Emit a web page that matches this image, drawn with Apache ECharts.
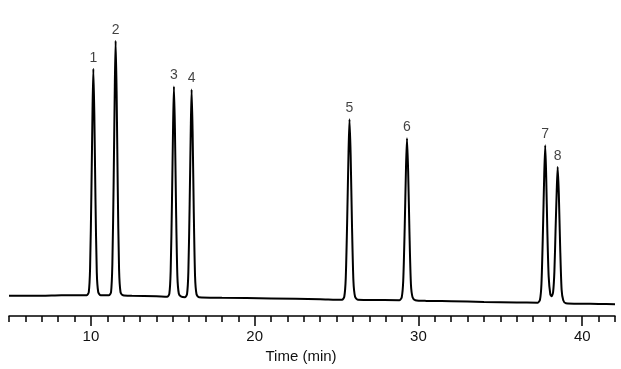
<!DOCTYPE html>
<html>
<head>
<meta charset="utf-8">
<script src="https://cdn.jsdelivr.net/npm/echarts@6/dist/echarts.min.js"></script>
<style>
html,body{margin:0;padding:0;background:#fff;}
#chart{width:621px;height:369px;}
</style>
</head>
<body>
<div id="chart"></div>
<script>
// Chromatogram trace: time (min) and detector signal (arbitrary units)
const timeMin = [
  5.0, 7.0, 8.2, 9.5,
  9.75, 9.87, 9.95, 10.03, 10.10, 10.15, 10.21, 10.28, 10.36, 10.45, 10.60,
  11.11, 11.23, 11.31, 11.39, 11.46, 11.51, 11.57, 11.64, 11.72, 11.81, 11.96,
  12.5, 14.0,
  14.67, 14.79, 14.87, 14.95, 15.02, 15.07, 15.13, 15.20, 15.28, 15.37, 15.52,
  15.75, 15.87, 15.95, 16.03, 16.10, 16.15, 16.21, 16.28, 16.36, 16.45, 16.60,
  18.0, 21.0, 24.0,
  25.33, 25.47, 25.56, 25.65, 25.73, 25.79, 25.86, 25.94, 26.03, 26.13, 26.30,
  27.0,
  28.84, 28.98, 29.07, 29.16, 29.24, 29.30, 29.37, 29.45, 29.54, 29.64, 29.81,
  30.5, 32.0, 34.0, 36.0,
  37.28, 37.42, 37.51, 37.60, 37.68, 37.74, 37.80, 37.87, 37.95, 38.05, 38.13,
  38.22, 38.30, 38.37, 38.44, 38.50, 38.57, 38.65, 38.74, 38.84, 39.00,
  40.0, 41.0, 42.0
];
const signal = [
  20.5, 20.5, 21, 21,
  21, 24, 48, 124, 208, 249, 203, 117, 44, 24, 21,
  21, 24, 52, 136, 231, 277, 226, 129, 47, 24, 21,
  20.5, 20,
  19.5, 22.5, 45, 115, 193, 231, 189, 108, 40.5, 22.5, 19.5,
  19, 22, 44, 113, 190, 228, 186, 107, 40, 22, 19,
  18.5, 17.8, 17,
  16.5, 19.5, 38, 98, 165, 198, 162, 93, 35, 19.5, 16.5,
  16.3,
  16, 19, 35.5, 89, 150, 179, 146, 84.5, 32, 19, 16,
  15.3, 15, 14.3, 13.7,
  13.5, 16.5, 32.5, 85, 143, 172, 140, 85, 40, 22, 20,
  24, 45, 86, 125, 150, 123, 70.5, 26.7, 16, 13,
  12.5, 12.3, 12
];
// Peak labels
const peakLabels = ['1', '2', '3', '4', '5', '6', '7', '8'];
const peakTime = [10.15, 11.51, 15.07, 16.15, 25.79, 29.30, 37.74, 38.50];
const peakApex = [249, 277, 231, 228, 198, 179, 172, 150];
// Axis
const tickValues = [10, 20, 30, 40];
const xMin = 5, xMax = 42;

const traceData = timeMin.map((t, i) => [t, signal[i]]);
const labelData = peakLabels.map((n, i) => ({ name: n, value: [peakTime[i], peakApex[i]] }));

const font = '"Liberation Sans", Arial, sans-serif';
const chart = echarts.init(document.getElementById('chart'), null, { renderer: 'canvas' });
chart.setOption({
  animation: false,
  backgroundColor: '#ffffff',
  grid: { left: 9, right: 6, top: 18, bottom: 51 },
  xAxis: [
    {
      type: 'value', min: xMin, max: xMax, interval: 1,
      position: 'bottom',
      axisLine: { show: true, lineStyle: { color: '#000', width: 1.5 } },
      axisTick: { show: true, length: 6, lineStyle: { color: '#000', width: 1.5 } },
      axisLabel: { show: false },
      splitLine: { show: false }
    },
    {
      type: 'value', min: xMin, max: xMax,
      position: 'bottom',
      axisLine: { show: false },
      axisTick: { show: true, length: 10, customValues: tickValues, lineStyle: { color: '#000', width: 1.5 } },
      axisLabel: { show: true, customValues: tickValues, color: '#111', fontSize: 15, fontFamily: font, margin: 13 },
      splitLine: { show: false },
      name: 'Time (min)', nameLocation: 'middle', nameGap: 32,
      nameTextStyle: { color: '#111', fontSize: 15, fontFamily: font, padding: [0, 22, 0, 0] }
    }
  ],
  yAxis: { type: 'value', min: 0, max: 300, show: false, splitLine: { show: false } },
  series: [
    {
      type: 'line', xAxisIndex: 0, data: traceData, showSymbol: false, symbol: 'none',
      lineStyle: { color: '#000', width: 2 }, smooth: 0.25
    },
    {
      type: 'scatter', xAxisIndex: 0, data: labelData, symbolSize: 0,
      label: { show: true, position: 'top', distance: 4, formatter: '{b}', color: '#111', fontSize: 14, fontFamily: font }
    }
  ]
});
</script>
</body>
</html>
